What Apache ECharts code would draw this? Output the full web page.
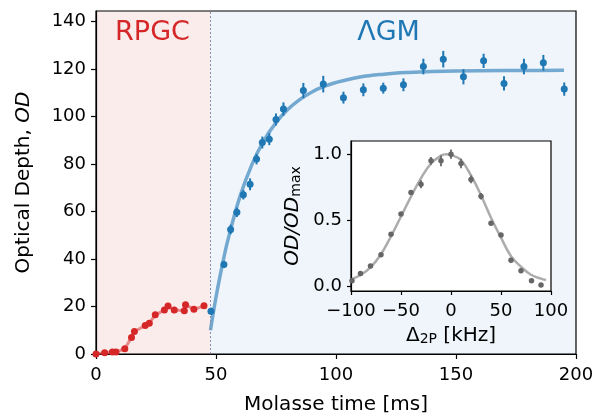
<!DOCTYPE html>
<html>
<head>
<meta charset="utf-8">
<script src="https://cdn.jsdelivr.net/npm/echarts@6/dist/echarts.min.js"></script>
<style>html,body{margin:0;padding:0;background:#fff;}#c{width:597px;height:416px;}</style>
</head>
<body>
<div id="c"></div>
<script>
// ---- data ----
const regionBounds = [0, 47.5, 200];
const redX = [0, 3.6, 6.8, 8.3, 12, 14.8, 16, 20.5, 22.2, 24.7, 28.5, 30, 32.6, 36.8, 37.3, 40.8, 45];
const redY = [0, 0.5, 0.8, 0.8, 2.2, 7, 9.5, 12, 13, 16.5, 18.5, 20.2, 18.5, 18.2, 20.8, 18.8, 20.3];
const blueX = [47.9, 53.3, 56.1, 58.7, 61.4, 64.2, 66.9, 69.3, 72.2, 75.0, 78.1, 86.4, 94.7, 103.1, 111.4, 119.7, 128.1, 136.4, 144.7, 153.1, 161.5, 170.0, 178.3, 186.4, 195.1];
const blueY = [18.0, 37.7, 52.5, 59.7, 67.1, 71.5, 82.1, 89.1, 90.5, 98.8, 103.2, 111.0, 113.7, 108.0, 111.3, 112.0, 113.4, 121.1, 124.2, 116.8, 123.5, 114.0, 121.1, 122.7, 111.6];
const blueErr = [1.5, 1.5, 2, 2, 2, 2.5, 2.2, 2.5, 2.5, 2.5, 2.8, 3.2, 3.5, 2.5, 2.7, 2.3, 2.7, 3.3, 3.5, 3.2, 3.0, 3.0, 3.3, 3.3, 2.8];
const fitX = [47.7, 50, 53, 55, 60, 65, 70, 75, 80, 85, 90, 95, 100, 110, 120, 130, 140, 160, 180, 195];
const fitY = [10, 23.9, 39.3, 48.2, 66.4, 79.9, 90, 97.5, 103.1, 107.3, 110.4, 112.7, 114.4, 116.7, 117.9, 118.6, 119.0, 119.35, 119.45, 119.5];
const mainXTicks = [0, 50, 100, 150, 200];
const mainYTicks = [0, 20, 40, 60, 80, 100, 120, 140];

const insetX = [-99, -90.5, -80.5, -70, -60, -50, -40, -30, -20, -10, 0, 10, 20, 30, 40, 50, 60, 70, 80.5, 90];
const insetY = [0.045, 0.10, 0.156, 0.241, 0.395, 0.548, 0.711, 0.774, 0.95, 0.95, 1.0, 0.93, 0.81, 0.683, 0.478, 0.39, 0.20, 0.12, 0.045, 0.013];
const insetErr = [0.01, 0.01, 0.01, 0.01, 0.01, 0.015, 0.015, 0.03, 0.03, 0.04, 0.035, 0.035, 0.03, 0.025, 0.015, 0.01, 0.01, 0.01, 0.01, 0.01];
const insetFitX = [-100, -90, -80, -70, -60, -50, -40, -30, -20, -10, -5, 0, 10, 20, 30, 40, 50, 60, 70, 80, 90, 95];
const insetFitY = [0.055, 0.09, 0.15, 0.245, 0.38, 0.53, 0.68, 0.82, 0.93, 0.99, 1.0, 0.995, 0.955, 0.84, 0.69, 0.52, 0.37, 0.23, 0.15, 0.09, 0.06, 0.05];
const insetXTicks = [-100, -50, 0, 50, 100];
const insetYTicks = [0, 0.5, 1.0];

// ---- build chart ----
const zip = (a, b) => a.map((v, i) => [v, b[i]]);
const zip3 = (a, b, c) => a.map((v, i) => [v, b[i], c[i]]);
const FONT = 'DejaVu Sans';
const chart = echarts.init(document.getElementById('c'), null, {renderer: 'canvas'});

function errRender(color, w) {
  return function (params, api) {
    const x = api.value(0), y = api.value(1), e = api.value(2);
    const p1 = api.coord([x, y - e]);
    const p2 = api.coord([x, y + e]);
    return {type: 'line', shape: {x1: p1[0], y1: p1[1], x2: p2[0], y2: p2[1]},
            style: {stroke: color, lineWidth: w}};
  };
}
const minus = v => (v < 0 ? '\u2212' + Math.abs(v) : String(v));

const axisCommon = {
  axisLine: {show: true, onZero: false, lineStyle: {color: '#000', width: 1.2}},
  splitLine: {show: false},
};

const option = {
  animation: false,
  backgroundColor: '#fff',
  textStyle: {fontFamily: FONT},
  grid: [
    {left: 96, top: 11, right: 21, bottom: 62, containLabel: false, outerBoundsMode: 'none',
     show: true, borderColor: '#000', borderWidth: 1.2, backgroundColor: 'transparent', z: 3},
    {left: 351, top: 141, width: 200, height: 150, containLabel: false, outerBoundsMode: 'none',
     show: true, borderColor: '#000', borderWidth: 1.2, backgroundColor: '#fff', z: 10}
  ],
  xAxis: [
    Object.assign({}, axisCommon, {
      gridIndex: 0, type: 'value', min: regionBounds[0], max: regionBounds[2], z: 4,
      axisTick: {show: true, length: 5, lineStyle: {color: '#000', width: 1.2}, customValues: mainXTicks},
      axisLabel: {customValues: mainXTicks, fontSize: 18, color: '#000', margin: 12, fontFamily: FONT},
      name: 'Molasse time [ms]', nameLocation: 'middle', nameGap: 41,
      nameTextStyle: {fontSize: 20, color: '#000', fontFamily: FONT}
    }),
    Object.assign({}, axisCommon, {
      gridIndex: 1, type: 'value', min: -100, max: 100, z: 11,
      axisTick: {show: true, length: 4, lineStyle: {color: '#000', width: 1.2}, customValues: insetXTicks},
      axisLabel: {customValues: insetXTicks, fontSize: 18, color: '#000', margin: 11, fontFamily: FONT, formatter: minus},
      name: '{n|\u0394}{s|2P}{n| [kHz]}', nameLocation: 'middle', nameGap: 35,
      nameTextStyle: {fontSize: 20, color: '#000', fontFamily: FONT,
        rich: {n: {fontSize: 20, lineHeight: 20, fontFamily: FONT, color: '#000'},
               s: {fontSize: 14, lineHeight: 8, verticalAlign: 'bottom', fontFamily: FONT, color: '#000'}}}
    })
  ],
  yAxis: [
    Object.assign({}, axisCommon, {
      gridIndex: 0, type: 'value', min: 0, max: 144.5, z: 4,
      axisTick: {show: true, length: 5, lineStyle: {color: '#000', width: 1.2}, customValues: mainYTicks},
      axisLabel: {customValues: mainYTicks, fontSize: 18, color: '#000', margin: 10, fontFamily: FONT},
      name: '{n|Optical Depth, }{i|OD}', nameLocation: 'middle', nameGap: 62,
      nameTextStyle: {fontSize: 20, color: '#000', fontFamily: FONT,
        rich: {n: {fontSize: 20, fontFamily: FONT, color: '#000'},
               i: {fontSize: 20, fontStyle: 'italic', fontFamily: FONT, color: '#000'}}}
    }),
    Object.assign({}, axisCommon, {
      gridIndex: 1, type: 'value', min: -0.033, max: 1.1, z: 11,
      axisTick: {show: true, length: 4, lineStyle: {color: '#000', width: 1.2}, customValues: insetYTicks},
      axisLabel: {customValues: insetYTicks, fontSize: 18, color: '#000', margin: 9, fontFamily: FONT, formatter: v => v.toFixed(1)},
      name: '{i|OD/OD}{s|max}', nameLocation: 'middle', nameGap: 48,
      nameTextStyle: {fontSize: 20, color: '#000', fontFamily: FONT,
        rich: {i: {fontSize: 20, lineHeight: 20, fontStyle: 'italic', fontFamily: FONT, color: '#000'},
               s: {fontSize: 14, lineHeight: 8, verticalAlign: 'bottom', fontFamily: FONT, color: '#000'}}}
    })
  ],
  graphic: [
    {type: 'text', x: 152.5, y: 33, z: 20,
     style: {text: 'RPGC', fill: '#d62728', font: '27px "DejaVu Sans"', align: 'center', verticalAlign: 'middle'}},
    {type: 'text', x: 388.5, y: 33, z: 20,
     style: {text: '\u039BGM', fill: '#1f77b4', font: '27px "DejaVu Sans"', align: 'center', verticalAlign: 'middle'}}
  ],
  series: [
    { // background regions + boundary line
      type: 'line', xAxisIndex: 0, yAxisIndex: 0, data: [], z: 1, silent: true,
      markArea: {silent: true, data: [
        [{xAxis: regionBounds[0], itemStyle: {color: 'rgba(214,39,40,0.09)'}}, {xAxis: regionBounds[1]}],
        [{xAxis: regionBounds[1], itemStyle: {color: 'rgba(31,119,180,0.07)'}}, {xAxis: regionBounds[2]}]
      ]},
      markLine: {silent: true, symbol: ['none', 'none'], label: {show: false},
        lineStyle: {color: '#8c8ca8', type: [2, 2], width: 1},
        data: [{xAxis: regionBounds[1]}]}
    },
    {
      type: 'line', xAxisIndex: 0, yAxisIndex: 0, data: zip(redX, redY), z: 5,
      symbol: 'circle', symbolSize: 7, showSymbol: true,
      itemStyle: {color: '#d62728'},
      lineStyle: {color: 'rgba(214,39,40,0.5)', width: 3}
    },
    {
      type: 'line', xAxisIndex: 0, yAxisIndex: 0, data: zip(fitX, fitY), z: 4,
      smooth: 0.4, showSymbol: false, symbol: 'none',
      lineStyle: {color: 'rgba(31,119,180,0.6)', width: 3.5}
    },
    {
      type: 'custom', xAxisIndex: 0, yAxisIndex: 0, data: zip3(blueX, blueY, blueErr), z: 5,
      renderItem: errRender('#1f77b4', 2)
    },
    {
      type: 'scatter', xAxisIndex: 0, yAxisIndex: 0, data: zip(blueX, blueY), z: 6,
      symbol: 'circle', symbolSize: 7, itemStyle: {color: '#1f77b4', opacity: 1}
    },
    {
      type: 'line', xAxisIndex: 1, yAxisIndex: 1, data: zip(insetFitX, insetFitY), z: 12,
      smooth: 0.4, showSymbol: false, symbol: 'none',
      lineStyle: {color: 'rgba(128,128,128,0.65)', width: 2.5}
    },
    {
      type: 'custom', xAxisIndex: 1, yAxisIndex: 1, data: zip3(insetX, insetY, insetErr), z: 13,
      renderItem: errRender('#666', 1.8)
    },
    {
      type: 'scatter', xAxisIndex: 1, yAxisIndex: 1, data: zip(insetX, insetY), z: 14,
      symbol: 'circle', symbolSize: 5.5, itemStyle: {color: '#666', opacity: 1}
    }
  ]
};
chart.setOption(option);
</script>
</body>
</html>
